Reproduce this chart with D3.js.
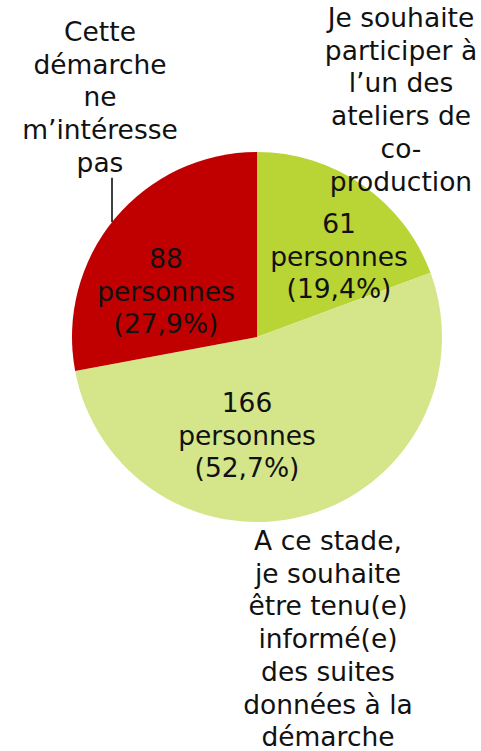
<!DOCTYPE html>
<html>
<head>
<meta charset="utf-8">
<script src="https://cdn.jsdelivr.net/npm/d3@7"></script>
<style>
  body { margin: 0; background: #fff; }
  text { font-family: "DejaVu Sans", sans-serif; fill: #111; }
</style>
</head>
<body>
<svg width="481" height="751"></svg>
<script>
// slices, clockwise from 12 o'clock
var categories = [
  ['Je souhaite', 'participer à', 'l’un des', 'ateliers de', 'co-', 'production'],
  ['A ce stade,', 'je souhaite', 'être tenu(e)', 'informé(e)', 'des suites', 'données à la', 'démarche'],
  ['Cette', 'démarche', 'ne', 'm’intéresse', 'pas']
]
var counts = [61, 166, 88]
var colors = ['#b9d435', '#d4e689', '#c00000']

// where the labels sit (first baseline)
var catPos = [[401, 27], [328, 550], [100, 41]]
var valPos = [[339, 233], [247, 412], [166, 268]]

var svg = d3.select('svg')
var cx = 257
var cy = 337
var radius = 185
var lineH = 32.7
var fontSize = 26.5

var fr = d3.formatLocale({ decimal: ',', thousands: ' ', grouping: [3], currency: ['', '€'] })
var pct = fr.format('.1%')
var total = d3.sum(counts)

var pie = d3.pie().sort(null).value(d => d)
var arc = d3.arc().innerRadius(0).outerRadius(radius)

var g = svg.append('g').attr('transform', 'translate(' + cx + ',' + cy + ')')

g.selectAll('path')
  .data(pie(counts))
  .enter().append('path')
    .attr('d', arc)
    .attr('fill', (d, i) => colors[i])

// leader line for the red slice
var lx = catPos[2][0] + 12 - cx
svg.append('line')
    .attr('x1', cx + lx)
    .attr('y1', catPos[2][1] + (categories[2].length - 1) * lineH + 6)
    .attr('x2', cx + lx)
    .attr('y2', cy - Math.sqrt(radius * radius - lx * lx))
    .attr('stroke', '#000')
    .attr('stroke-width', 1.5)

function block (lines, pos) {
  var t = svg.append('text')
      .attr('text-anchor', 'middle')
      .style('font-size', fontSize + 'px')
  lines.forEach((s, j) => {
    t.append('tspan')
        .attr('x', pos[0])
        .attr('y', pos[1] + j * lineH)
        .text(s)
  })
}

categories.forEach((lines, i) => block(lines, catPos[i]))
counts.forEach((c, i) => {
  block([String(c), 'personnes', '(' + pct(c / total) + ')'], valPos[i])
})
</script>
</body>
</html>
